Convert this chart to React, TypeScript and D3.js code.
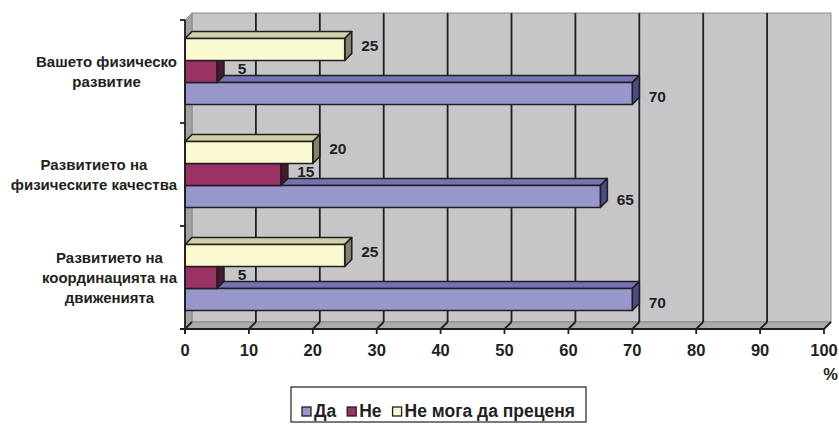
import React, { useRef, useEffect } from 'react';
import * as d3 from 'd3';

// categories top to bottom, each split into its text lines
const categories = [
  ['Вашето физическо', 'развитие'],
  ['Развитието на', 'физическите качества'],
  ['Развитието на', 'координацията на', 'движенията'],
];
const da = [70, 65, 70];
const ne = [5, 15, 5];
const neMoga = [25, 20, 25];
const tickValues = [0, 10, 20, 30, 40, 50, 60, 70, 80, 90, 100];
const legendNames = ['Да', 'Не', 'Не мога да преценя'];

interface Series {
  key: string;
  name: string;
  values: number[];
  front: string;
  top: string;
  side: string;
  labelDy: number;
}

const series: Series[] = [
  { key: 'da', name: legendNames[0], values: da, front: '#9797cb', top: '#7474b4', side: '#4c4c8a', labelDy: 3 },
  { key: 'ne', name: legendNames[1], values: ne, front: '#993366', top: '#7a2952', side: '#4a1630', labelDy: -3 },
  { key: 'neMoga', name: legendNames[2], values: neMoga, front: '#fbf9d2', top: '#cfcfa8', side: '#84846a', labelDy: -4 },
];

const W = 839;
const H = 424;
const ink = '#231f20';
const font = '"Liberation Sans", Arial, sans-serif';

export default function App() {
  const svgRef = useRef<SVGSVGElement>(null);

  useEffect(() => {
    if (!svgRef.current) return;
    const svg = d3.select(svgRef.current);
    svg.selectAll('*').remove();

    const left = 185, right = 824, top = 20, bottom = 329;
    const dx = 7, dy = -7; // depth of the 3d box

    const x = d3.scaleLinear().domain([0, 100]).range([left, right]);
    const y = d3
      .scaleBand<number>()
      .domain(d3.range(categories.length))
      .range([top, bottom])
      .paddingInner(0.36)
      .paddingOuter(0.18);
    // inside a group: yellow on top, then red, then blue
    const inner = d3
      .scaleBand<string>()
      .domain(['neMoga', 'ne', 'da'])
      .range([0, y.bandwidth()]);
    const step = y.step();

    // walls
    svg
      .append('rect')
      .attr('x', left + dx)
      .attr('y', top + dy)
      .attr('width', right - left)
      .attr('height', bottom - top)
      .attr('fill', '#c6c6c8')
      .attr('stroke', '#8a8a8a')
      .attr('stroke-width', 1);
    svg
      .append('polygon')
      .attr('points', [[left, top], [left + dx, top + dy], [left + dx, bottom + dy], [left, bottom]].join(' '))
      .attr('fill', '#a2a2a4')
      .attr('stroke', '#8a8a8a');
    svg
      .append('polygon')
      .attr('points', [[left, bottom], [left + dx, bottom + dy], [right + dx, bottom + dy], [right, bottom]].join(' '))
      .attr('fill', '#ababad')
      .attr('stroke', '#8a8a8a');

    // grid on back wall and floor
    const grid = svg.append('g').attr('stroke', ink).attr('stroke-width', 1.8);
    grid
      .selectAll('line.v')
      .data(tickValues.slice(1, -1))
      .enter()
      .append('line')
      .attr('x1', (d) => x(d) + dx)
      .attr('x2', (d) => x(d) + dx)
      .attr('y1', top + dy)
      .attr('y2', bottom + dy);
    grid
      .selectAll('line.f')
      .data(tickValues)
      .enter()
      .append('line')
      .attr('x1', (d) => x(d))
      .attr('x2', (d) => x(d) + dx)
      .attr('y1', bottom)
      .attr('y2', bottom + dy);

    // bars, drawn bottom to top so upper fronts cover lower top faces
    const bars = svg.append('g').attr('stroke', ink).attr('stroke-width', 1.6).attr('stroke-linejoin', 'round');
    for (let c = categories.length - 1; c >= 0; c--) {
      series.forEach((s) => {
        const v = s.values[c];
        const y0 = (y(c) as number) + (inner(s.key) as number);
        const h = inner.bandwidth();
        const x0 = x(0);
        const x1 = x(v);
        bars
          .append('polygon')
          .attr('points', [[x0, y0], [x0 + dx, y0 + dy], [x1 + dx, y0 + dy], [x1, y0]].join(' '))
          .attr('fill', s.top);
        bars
          .append('polygon')
          .attr('points', [[x1, y0], [x1 + dx, y0 + dy], [x1 + dx, y0 + h + dy], [x1, y0 + h]].join(' '))
          .attr('fill', s.side);
        bars
          .append('rect')
          .attr('x', x0)
          .attr('y', y0)
          .attr('width', x1 - x0)
          .attr('height', h)
          .attr('fill', s.front);
      });
    }

    // data labels
    const labels = svg.append('g').attr('font-family', font).attr('font-weight', 'bold').attr('font-size', 15.5).attr('fill', ink);
    categories.forEach((_, c) => {
      series.forEach((s) => {
        const v = s.values[c];
        const yc = (y(c) as number) + (inner(s.key) as number) + inner.bandwidth() / 2;
        labels
          .append('text')
          .attr('x', x(v) + 25)
          .attr('y', yc + s.labelDy)
          .attr('dy', '0.36em')
          .attr('text-anchor', 'middle')
          .text(v);
      });
    });

    // axes
    const axes = svg.append('g').attr('stroke', ink).attr('stroke-width', 1.8);
    axes.append('line').attr('x1', left).attr('x2', left).attr('y1', top).attr('y2', bottom + 5);
    axes.append('line').attr('x1', left - 5).attr('x2', right).attr('y1', bottom).attr('y2', bottom);
    axes
      .selectAll('line.yt')
      .data(d3.range(categories.length + 1))
      .enter()
      .append('line')
      .attr('x1', left - 5)
      .attr('x2', left)
      .attr('y1', (i) => top + i * step)
      .attr('y2', (i) => top + i * step);
    axes
      .selectAll('line.xt')
      .data(tickValues)
      .enter()
      .append('line')
      .attr('x1', (d) => x(d))
      .attr('x2', (d) => x(d))
      .attr('y1', bottom)
      .attr('y2', bottom + 5);

    const txt = svg.append('g').attr('font-family', font).attr('font-weight', 'bold').attr('fill', ink);
    txt
      .selectAll('text.tick')
      .data(tickValues)
      .enter()
      .append('text')
      .attr('x', (d) => x(d))
      .attr('y', 356)
      .attr('text-anchor', 'middle')
      .attr('font-size', 16.5)
      .text((d) => d);
    txt.append('text').attr('x', 838).attr('y', 380).attr('text-anchor', 'end').attr('font-size', 16.5).text('%');

    // category labels: lines centred on each other, block right aligned
    categories.forEach((lines, c) => {
      const cy = top + (c + 0.5) * step;
      const g = txt.append('g').attr('font-size', 15);
      const ts = g
        .selectAll('text')
        .data(lines)
        .enter()
        .append('text')
        .attr('text-anchor', 'middle')
        .attr('y', (_, j) => cy + (j - (lines.length - 1) / 2) * 20 + 5)
        .text((d) => d);
      let maxW = 0;
      ts.each(function () {
        maxW = Math.max(maxW, (this as SVGTextElement).getComputedTextLength());
      });
      ts.attr('x', 177 - maxW / 2);
    });

    // legend
    const lg = svg.append('g').attr('font-family', font).attr('font-weight', 'bold').attr('font-size', 17.5).attr('fill', ink);
    const lx = 291, ly = 387, lw = 295, lh = 35;
    lg.append('rect').attr('x', lx).attr('y', ly).attr('width', lw).attr('height', lh).attr('fill', '#fff').attr('stroke', ink).attr('stroke-width', 1.2);
    let cx = lx + 11;
    series.forEach((s) => {
      lg.append('rect').attr('x', cx).attr('y', ly + 20).attr('width', 9).attr('height', 9).attr('fill', s.front).attr('stroke', ink).attr('stroke-width', 1.3);
      const t = lg.append('text').attr('x', cx + 12).attr('y', ly + 30).text(s.name);
      cx += 12 + (t.node() as SVGTextElement).getComputedTextLength() + 11;
    });
  }, []);

  return (
    <svg
      ref={svgRef}
      width={W}
      height={H}
      style={{ position: 'absolute', left: 0, top: 0, background: '#fff' }}
    />
  );
}
